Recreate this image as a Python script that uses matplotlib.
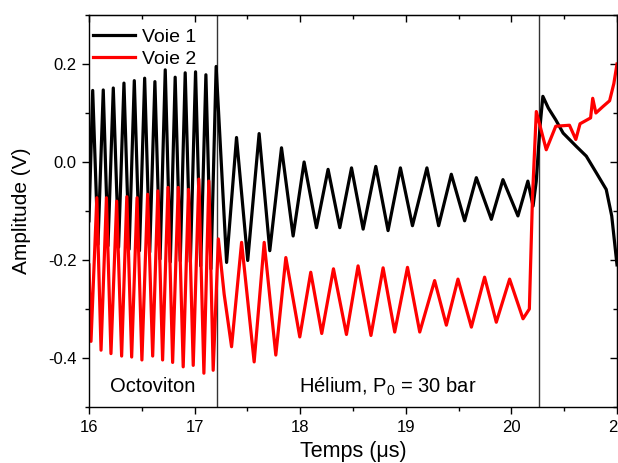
import matplotlib
matplotlib.use("Agg")
import matplotlib.pyplot as plt
from matplotlib.ticker import MultipleLocator

plt.rcParams['font.family'] = ['Liberation Sans', 'DejaVu Sans']
plt.rcParams['mathtext.default'] = 'regular'

# Voie 1 (black) turning points
t_voie1 = [16.00, 16.035, 16.085, 16.135, 16.18, 16.23, 16.28, 16.331, 16.38, 16.429,
           16.478, 16.527, 16.575, 16.624, 16.673, 16.722, 16.77, 16.816, 16.864,
           16.911, 16.96, 17.009, 17.058, 17.107, 17.155, 17.204,
           17.303, 17.397, 17.503, 17.611, 17.712, 17.823, 17.933, 18.037, 18.154,
           18.264, 18.375, 18.486, 18.596, 18.716, 18.832, 18.949, 19.063, 19.200,
           19.311, 19.431, 19.557, 19.668, 19.810, 19.920, 20.062, 20.156, 20.205,
           20.235, 20.27, 20.298, 20.35, 20.42, 20.49, 20.614, 20.709, 20.804,
           20.898, 20.95, 21.0]
v_voie1 = [-0.12, 0.146, -0.168, 0.147, -0.171, 0.151, -0.174, 0.161, -0.178, 0.166,
           -0.181, 0.171, -0.184, 0.164, -0.198, 0.188, -0.204, 0.173, -0.202,
           0.182, -0.204, 0.184, -0.212, 0.178, -0.218, 0.195,
           -0.205, 0.050, -0.201, 0.058, -0.181, 0.029, -0.151, 0.000, -0.134,
           -0.015, -0.134, -0.012, -0.137, -0.009, -0.140, -0.012, -0.130, -0.012,
           -0.130, -0.025, -0.120, -0.032, -0.117, -0.036, -0.110, -0.039, -0.09,
           -0.04, 0.07, 0.134, 0.11, 0.086, 0.059, 0.032, 0.012, -0.022,
           -0.056, -0.11, -0.21]

# Voie 2 (red) turning points
t_voie2 = [16.00, 16.019, 16.074, 16.114, 16.165, 16.208, 16.262, 16.309, 16.358,
           16.404, 16.455, 16.501, 16.555, 16.603, 16.652, 16.697, 16.748, 16.792,
           16.845, 16.892, 16.942, 16.987, 17.040, 17.088, 17.135, 17.176, 17.225,
           17.28, 17.35, 17.445, 17.564, 17.659, 17.769, 17.864, 17.996, 18.100,
           18.204, 18.315, 18.438, 18.548, 18.670, 18.785, 18.895, 19.016, 19.132,
           19.273, 19.384, 19.494, 19.621, 19.746, 19.857, 19.983, 20.110, 20.17,
           20.20, 20.236, 20.33, 20.42, 20.55, 20.61, 20.65, 20.75, 20.77, 20.80,
           20.866, 20.93, 20.97, 21.0]
v_voie2 = [-0.21, -0.366, -0.073, -0.384, -0.073, -0.391, -0.080, -0.396, -0.071,
           -0.398, -0.073, -0.404, -0.066, -0.396, -0.059, -0.404, -0.052, -0.409,
           -0.052, -0.418, -0.056, -0.415, -0.035, -0.431, -0.039, -0.425, -0.157,
           -0.27, -0.377, -0.164, -0.408, -0.164, -0.394, -0.195, -0.357, -0.225,
           -0.350, -0.218, -0.352, -0.212, -0.354, -0.216, -0.347, -0.215, -0.347,
           -0.242, -0.333, -0.239, -0.337, -0.235, -0.327, -0.239, -0.320, -0.30,
           -0.07, 0.103, 0.025, 0.073, 0.075, 0.046, 0.078, 0.09, 0.13, 0.10,
           0.113, 0.125, 0.16, 0.20]

boundaries = [17.214, 20.257]
region_labels = ["Octoviton", "Hélium, P$_0$ = 30 bar"]
region_label_x = [16.605, 18.83]
series_names = ["Voie 1", "Voie 2"]

fig = plt.figure(figsize=(6.18, 4.63), dpi=100)
ax = fig.add_axes([89/618, 56/463, 528/618, 392/463])

ax.plot(t_voie1, v_voie1, color='black', lw=2.3, label=series_names[0])
ax.plot(t_voie2, v_voie2, color='#ff0000', lw=2.3, label=series_names[1])

for b in boundaries:
    ax.axvline(b, color='#333333', lw=1.0, zorder=1)

for txt, xx in zip(region_labels, region_label_x):
    ax.text(xx, -0.458, txt, ha='center', va='center', fontsize=14.5)

ax.set_xlim(16, 21)
ax.set_ylim(-0.5, 0.3)
ax.xaxis.set_major_locator(MultipleLocator(1))
ax.xaxis.set_minor_locator(MultipleLocator(0.5))
ax.yaxis.set_major_locator(MultipleLocator(0.2))
ax.yaxis.set_minor_locator(MultipleLocator(0.1))
ax.yaxis.set_major_formatter(plt.FuncFormatter(lambda v, p: f"{v:.1f}"))
ax.xaxis.set_major_formatter(plt.FuncFormatter(lambda v, p: f"{v:.0f}"))

ax.tick_params(axis='both', which='both', labelsize=12, width=1.0, direction='out',
               top=False, right=False, pad=4)
ax.tick_params(axis='both', which='major', length=5)
ax.tick_params(axis='both', which='minor', length=3)

sec_x = ax.secondary_xaxis('top')
sec_x.xaxis.set_major_locator(MultipleLocator(1))
sec_x.xaxis.set_minor_locator(MultipleLocator(0.5))
sec_x.tick_params(which='both', direction='in', labeltop=False, width=1.0)
sec_x.tick_params(which='major', length=5)
sec_x.tick_params(which='minor', length=3)
sec_y = ax.secondary_yaxis('right')
sec_y.yaxis.set_major_locator(MultipleLocator(0.2))
sec_y.yaxis.set_minor_locator(MultipleLocator(0.1))
sec_y.tick_params(which='both', direction='in', labelright=False, width=1.0)
sec_y.tick_params(which='major', length=5)
sec_y.tick_params(which='minor', length=3)

for s in ax.spines.values():
    s.set_linewidth(1.0)

ax.set_xlabel("Temps (μs)", fontsize=15.5, labelpad=5)
ax.set_ylabel("Amplitude (V)", fontsize=15, labelpad=12)

leg = ax.legend(loc='upper left', bbox_to_anchor=(0.0, 1 - 9/392), frameon=False,
                fontsize=14, handlelength=2.15, labelspacing=0.24, borderaxespad=0.1,
                borderpad=0.1, handletextpad=0.35)

fig.savefig("out.png", dpi=100)
